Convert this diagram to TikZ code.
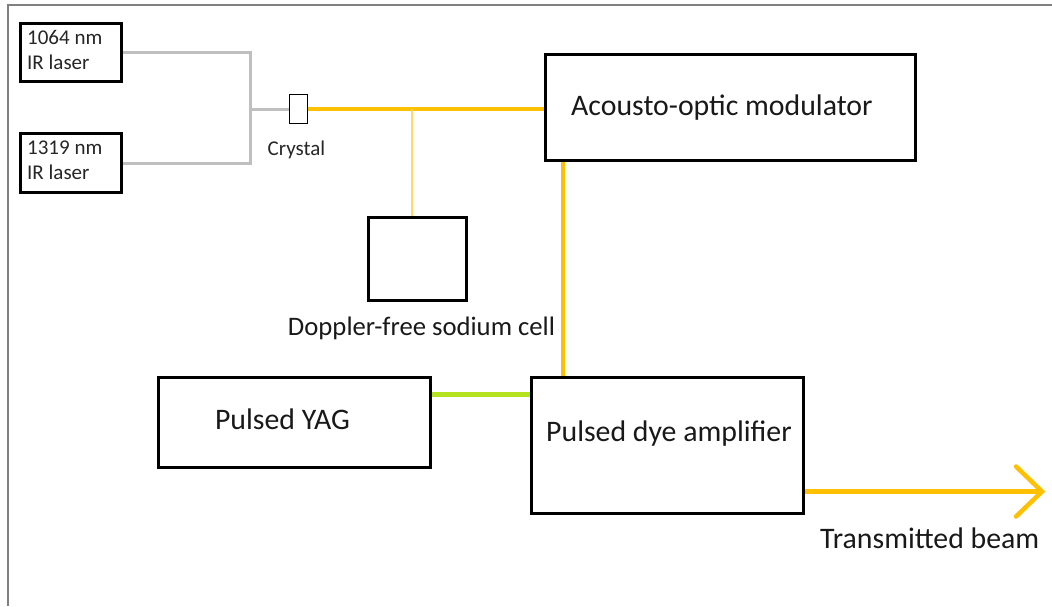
\documentclass[tikz,border=0pt]{standalone}
\usepackage{fontspec}
\setmainfont{Carlito}
\usetikzlibrary{calc}
\definecolor{beamyellow}{RGB}{255,192,0}
\definecolor{thinyellow}{RGB}{255,217,102}
\definecolor{pumpgreen}{RGB}{180,226,30}
\definecolor{irgray}{RGB}{191,191,191}
\definecolor{framegray}{RGB}{128,128,128}
\tikzset{
  boxthick/.style={draw=black, line width=3pt, inner sep=0pt, fill=white},
  boxthin/.style={draw=black, line width=1pt, inner sep=0pt, fill=white},
  smalltxt/.style={inner sep=0pt, font=\fontsize{21}{25}\selectfont, align=left, text=black!85},
  bigtxt/.style={inner sep=0pt, font=\fontsize{29.8}{34}\selectfont, text=black!90},
  midtxt/.style={inner sep=0pt, font=\fontsize{26.7}{31}\selectfont, text=black!90},
  irbeam/.style={draw=irgray, line width=3pt},
  ybeam/.style={draw=beamyellow, line width=3.5pt},
  ythin/.style={draw=thinyellow, line width=1.5pt},
  gbeam/.style={draw=pumpgreen, line width=5pt},
}
\begin{document}
\begin{tikzpicture}[x=1pt,y=-1pt]
\useasboundingbox (0,0) rectangle (1052,606);
% frame (top and left edges only)
\draw[framegray, line width=2pt] (8,606) -- (8,4.5) -- (1052,4.5);

% boxes
\node[boxthick, minimum width=101pt, minimum height=58pt] (l1) at (71,52.5) {};
\node[boxthick, minimum width=101pt, minimum height=59pt] (l2) at (71,163) {};
\node[boxthin, minimum width=18pt, minimum height=29pt] (crys) at (298.5,109) {};
\node[boxthick, minimum width=370pt, minimum height=106pt] (aom) at (730.5,107.5) {};
\node[boxthick, minimum width=98pt, minimum height=83pt] (cell) at (417.5,259) {};
\node[boxthick, minimum width=272pt, minimum height=90pt] (yag) at (294.5,422.5) {};
\node[boxthick, minimum width=272pt, minimum height=136pt] (pda) at (667.5,445.5) {};

% labels
\node[smalltxt, anchor=west] (t1) at (27,49.5) {1064 nm\\IR laser};
\node[smalltxt, anchor=west] (t2) at (27,160) {1319 nm\\IR laser};
\node[smalltxt] (tc) at (296.5,150) {Crystal};
\node[bigtxt, anchor=west] (ta) at (571,108) {Acousto-optic modulator};
\node[midtxt] (td) at (421.5,328) {Doppler-free sodium cell};
\node[bigtxt] (ty) at (282.5,419) {Pulsed YAG};
\node[bigtxt, anchor=west] (tp) at (546,434) {Pulsed dye amplifier};
\node[bigtxt, anchor=west] (tt) at (820,538) {Transmitted beam};

% IR beams
\coordinate (jx) at (250,109);
\draw[irbeam] (l1.east) -- (l1.east -| jx) -- (l2.east -| jx) -- (l2.east);
\draw[irbeam] (jx) -- (crys.west);

% yellow beams
\draw[ybeam] (crys.east) -- (crys.east -| aom.west);
\coordinate (jc) at (412,109);
\draw[ythin] (jc) -- (jc |- cell.north);
\coordinate (jv) at (563,0);
\draw[ybeam] (jv |- aom.south) -- (jv |- pda.north);

% green pump
\coordinate (jg) at (0,394);
\draw[gbeam] (jg -| yag.east) -- (jg -| pda.west);

% transmitted beam with open arrow head
\coordinate (tip) at (1042,491.5);
\draw[draw=beamyellow, line width=4.5pt] (tip -| pda.east) -- (tip);
\draw[draw=beamyellow, line width=4.5pt, line cap=round] ($(tip)+(-26,-25)$) -- (tip) -- ($(tip)+(-26,25)$);
\end{tikzpicture}
\end{document}
